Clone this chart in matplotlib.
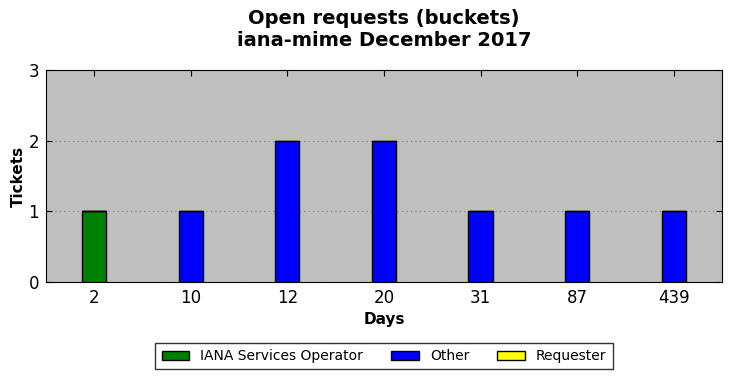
import numpy as np
import matplotlib.pyplot as plt

days = ["2", "10", "12", "20", "31", "87", "439"]
iana = [1, 0, 0, 0, 0, 0, 0]
other = [0, 1, 2, 2, 1, 1, 1]
requester = [0, 0, 0, 0, 0, 0, 0]

x = np.arange(len(days))
w = 0.25

fig = plt.figure(figsize=(7.31, 3.78), dpi=100)
ax = fig.add_axes([0.0629, 0.254, 0.9248, 0.5608])
ax.set_facecolor("#bfbfbf")

ax.bar(x, iana, w, color="green", edgecolor="black", label="IANA Services Operator", zorder=3)
ax.bar(x, other, w, bottom=iana, color="blue", edgecolor="black", label="Other", zorder=3)
bot = np.array(iana) + np.array(other)
ax.bar(x, requester, w, bottom=bot, color="yellow", edgecolor="black", label="Requester", zorder=3)

ax.set_xlim(-0.5, len(days) - 0.5)
ax.set_ylim(0, 3)
ax.set_yticks([0, 1, 2, 3])
ax.set_xticks(x)
ax.set_xticklabels(days)
ax.tick_params(direction="in", top=True, right=True, labelsize=12, length=4, pad=5)
ax.yaxis.grid(True, linestyle=(0, (1, 3)), color="gray", zorder=0)

ax.set_xlabel("Days", fontsize=11, fontweight="bold")
ax.set_ylabel("Tickets", fontsize=11, fontweight="bold", labelpad=2)
ax.set_title("Open requests (buckets)\niana-mime December 2017", fontsize=14, fontweight="bold", pad=17)

leg = ax.legend(loc="upper center", bbox_to_anchor=(0.5, -0.255), ncol=3, fontsize=10,
                fancybox=False, edgecolor="black", handlelength=2.0, columnspacing=2.0, borderpad=0.45)
leg.get_frame().set_linewidth(1)

fig.savefig("out.png", dpi=100)
